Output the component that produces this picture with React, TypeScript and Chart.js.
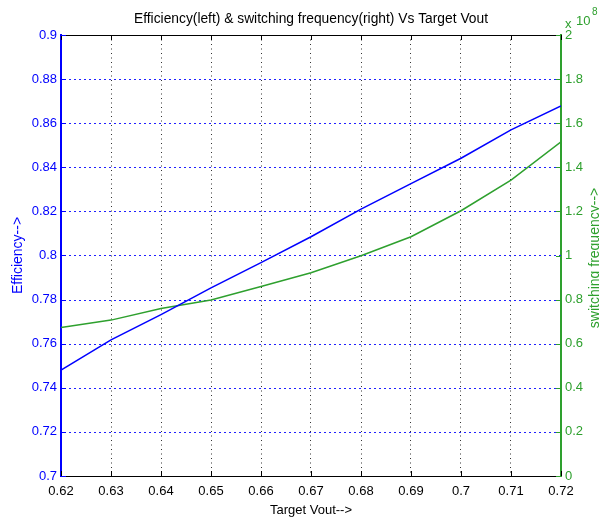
import React, { useEffect, useRef } from "react";
import { Chart, registerables } from "chart.js";

Chart.register(...registerables);

const vout = [0.62, 0.63, 0.64, 0.65, 0.66, 0.67, 0.68, 0.69, 0.7, 0.71, 0.72];
const efficiency = [0.748, 0.7617, 0.7732, 0.7853, 0.7968, 0.8085, 0.821, 0.8326, 0.8441, 0.857, 0.8678];
// switching frequency in units of 1e8 Hz
const freqE8 = [0.673, 0.707, 0.76, 0.798, 0.859, 0.922, 0.999, 1.085, 1.203, 1.342, 1.516];

const TITLE = "Efficiency(left) & switching frequency(right) Vs Target Vout";
const X_TITLE = "Target Vout-->";
const Y_TITLE = "Efficiency-->";
const Y2_TITLE = "switching frequency-->";

const BLUE = "#0000ff";
const GREEN = "#2ea02e";
const FONT = "'Liberation Sans', Arial, sans-serif";

const trim = (v: number, d: number) => {
  let s = v.toFixed(d);
  if (s.indexOf(".") >= 0) s = s.replace(/0+$/, "").replace(/\.$/, "");
  return s;
};

const decorPlugin = {
  id: "decor",
  beforeDatasetsDraw(chart: any) {
    const { ctx, chartArea } = chart;
    const { left, right } = chartArea;
    const ys = chart.scales.y;
    ctx.save();
    ctx.strokeStyle = "#2020ff";
    ctx.fillStyle = "#2020ff";
    ys.ticks.forEach((t: any) => {
      const py = Math.round(ys.getPixelForValue(t.value));
      for (let x = left + 3; x < right - 1; x += 5) {
        ctx.fillRect(x, py, 2, 1);
      }
    });
    ctx.restore();
  },
  afterDraw(chart: any) {
    const { ctx, chartArea } = chart;
    const { left, right, top, bottom } = chartArea;
    ctx.save();
    ctx.strokeStyle = "#000";
    ctx.lineWidth = 1;
    ctx.beginPath();
    ctx.moveTo(left, top + 0.5);
    ctx.lineTo(right, top + 0.5);
    ctx.moveTo(left, bottom + 0.5);
    ctx.lineTo(right, bottom + 0.5);
    ctx.stroke();
    const xs = chart.scales.x;
    ctx.beginPath();
    xs.ticks.forEach((t: any) => {
      const px = Math.round(xs.getPixelForValue(t.value)) + 0.5;
      ctx.moveTo(px, bottom);
      ctx.lineTo(px, bottom - 5);
      ctx.moveTo(px, top);
      ctx.lineTo(px, top + 5);
    });
    ctx.stroke();
    const ys = chart.scales.y;
    ctx.strokeStyle = BLUE;
    ctx.beginPath();
    ys.ticks.forEach((t: any) => {
      const py = Math.round(ys.getPixelForValue(t.value)) + 0.5;
      ctx.moveTo(left, py);
      ctx.lineTo(left + 5, py);
    });
    ctx.stroke();
    const y2 = chart.scales.y1;
    ctx.strokeStyle = GREEN;
    ctx.beginPath();
    y2.ticks.forEach((t: any) => {
      const py = Math.round(y2.getPixelForValue(t.value)) + 0.5;
      ctx.moveTo(right, py);
      ctx.lineTo(right - 5, py);
    });
    ctx.stroke();

    ctx.fillStyle = "#000";
    ctx.font = `13.8px ${FONT}`;
    ctx.textAlign = "center";
    ctx.textBaseline = "middle";
    ctx.fillText(TITLE, (left + right) / 2, 19);

    ctx.fillStyle = GREEN;
    ctx.font = `14px ${FONT}`;
    ctx.save();
    ctx.translate(595, 258);
    ctx.rotate(-Math.PI / 2);
    ctx.fillText(Y2_TITLE, 0, 0);
    ctx.restore();

    ctx.textAlign = "left";
    ctx.textBaseline = "alphabetic";
    ctx.font = `13px ${FONT}`;
    ctx.fillText("x", 565, 28);
    ctx.fillText("10", 576, 25);
    ctx.font = `10px ${FONT}`;
    ctx.fillText("8", 592, 15);
    ctx.restore();
  },
};

export default function App() {
  const ref = useRef<HTMLCanvasElement | null>(null);
  useEffect(() => {
    if (!ref.current) return;
    const chart = new Chart(ref.current, {
      type: "line",
      data: {
        datasets: [
          {
            label: "Efficiency",
            data: vout.map((x, i) => ({ x, y: efficiency[i] })),
            borderColor: BLUE,
            borderWidth: 1.5,
            pointRadius: 0,
            yAxisID: "y",
            tension: 0,
          },
          {
            label: "Switching frequency",
            data: vout.map((x, i) => ({ x, y: freqE8[i] })),
            borderColor: GREEN,
            borderWidth: 1.5,
            pointRadius: 0,
            yAxisID: "y1",
            tension: 0,
          },
        ],
      },
      options: {
        animation: false,
        responsive: false,
        layout: { padding: { top: 35, right: 0, left: 0, bottom: 0 } },
        plugins: { legend: { display: false }, tooltip: { enabled: false }, title: { display: false } },
        scales: {
          x: {
            type: "linear",
            min: 0.62,
            max: 0.72,
            ticks: {
              stepSize: 0.01,
              color: "#000",
              font: { family: FONT, size: 13 },
              padding: 8,
              maxRotation: 0,
              autoSkip: false,
              callback: (v: any) => trim(Number(v), 2),
            },
            grid: { color: "#333", lineWidth: 1, drawTicks: false },
            border: { display: true, color: "#000", width: 1, dash: [1, 3.5] },
            title: { display: true, text: X_TITLE, color: "#000", font: { family: FONT, size: 13 }, padding: { top: 0, bottom: 0 } },
            afterFit: (s: any) => { s.height = 42; },
          },
          y: {
            type: "linear",
            position: "left",
            min: 0.7,
            max: 0.9,
            ticks: {
              stepSize: 0.02,
              color: BLUE,
              font: { family: FONT, size: 13 },
              padding: 4,
              callback: (v: any) => trim(Number(v), 2),
            },
            grid: { display: false, drawTicks: false },
            border: { display: true, color: BLUE, width: 2 },
            title: { display: true, text: Y_TITLE, color: BLUE, font: { family: FONT, size: 14 }, padding: { top: 10, bottom: 0 } },
            afterFit: (s: any) => { s.width = 61; },
          },
          y1: {
            type: "linear",
            position: "right",
            min: 0,
            max: 2,
            ticks: {
              stepSize: 0.2,
              color: GREEN,
              font: { family: FONT, size: 13 },
              padding: 4,
              callback: (v: any) => trim(Number(v), 1),
            },
            grid: { display: false, drawTicks: false },
            border: { display: true, color: GREEN, width: 2 },
            afterFit: (s: any) => { s.width = 38; },
          },
        },
      } as any,
      plugins: [decorPlugin],
    });
    return () => chart.destroy();
  }, []);
  return (
    <div style={{ position: "fixed", left: 0, top: 0, width: 599, height: 518, background: "#fff" }}>
      <canvas ref={ref} width={599} height={518} style={{ display: "block" }} />
    </div>
  );
}
